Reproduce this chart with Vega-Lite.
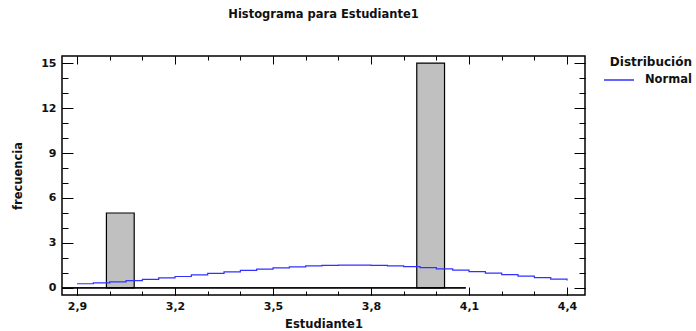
{
  "$schema": "https://vega.github.io/schema/vega-lite/v6.json",
  "autosize": "none",
  "width": 523,
  "height": 239,
  "padding": {"left": 62, "top": 56, "right": 111, "bottom": 36},
  "background": "white",
  "config": {
    "font": "DejaVu Sans",
    "view": {"stroke": "#000", "strokeWidth": 1.5},
    "axis": {"domain": false, "grid": false, "tickColor": "#000", "tickWidth": 1, "labelFont": "DejaVu Sans", "labelFontWeight": "bold", "labelFontSize": 11, "labelColor": "#111", "titleFont": "DejaVu Sans", "titleFontWeight": "bold", "titleFontSize": 11.5, "titleColor": "#111"},
    "legend": {"labelFont": "DejaVu Sans", "titleFont": "DejaVu Sans"}
  },
  "title": {"text": "Histograma para Estudiante1", "fontSize": 11.5, "fontWeight": "bold", "font": "DejaVu Sans", "color": "#111", "anchor": "middle", "offset": 35},
  "datasets": {
    "bins": [
      {"desde": 2.99, "hasta": 3.075, "frecuencia": 5},
      {"desde": 3.94, "hasta": 4.025, "frecuencia": 15}
    ],
    "normal": [
      {"x": 2.90, "y": 0.280, "serie": "Normal"},
      {"x": 2.95, "y": 0.341, "serie": "Normal"},
      {"x": 3.00, "y": 0.410, "serie": "Normal"},
      {"x": 3.05, "y": 0.488, "serie": "Normal"},
      {"x": 3.10, "y": 0.574, "serie": "Normal"},
      {"x": 3.15, "y": 0.667, "serie": "Normal"},
      {"x": 3.20, "y": 0.764, "serie": "Normal"},
      {"x": 3.25, "y": 0.866, "serie": "Normal"},
      {"x": 3.30, "y": 0.969, "serie": "Normal"},
      {"x": 3.35, "y": 1.072, "serie": "Normal"},
      {"x": 3.40, "y": 1.169, "serie": "Normal"},
      {"x": 3.45, "y": 1.261, "serie": "Normal"},
      {"x": 3.50, "y": 1.343, "serie": "Normal"},
      {"x": 3.55, "y": 1.412, "serie": "Normal"},
      {"x": 3.60, "y": 1.468, "serie": "Normal"},
      {"x": 3.65, "y": 1.506, "serie": "Normal"},
      {"x": 3.70, "y": 1.527, "serie": "Normal"},
      {"x": 3.75, "y": 1.528, "serie": "Normal"},
      {"x": 3.80, "y": 1.512, "serie": "Normal"},
      {"x": 3.85, "y": 1.477, "serie": "Normal"},
      {"x": 3.90, "y": 1.425, "serie": "Normal"},
      {"x": 3.95, "y": 1.358, "serie": "Normal"},
      {"x": 4.00, "y": 1.278, "serie": "Normal"},
      {"x": 4.05, "y": 1.188, "serie": "Normal"},
      {"x": 4.10, "y": 1.091, "serie": "Normal"},
      {"x": 4.15, "y": 0.990, "serie": "Normal"},
      {"x": 4.20, "y": 0.887, "serie": "Normal"},
      {"x": 4.25, "y": 0.785, "serie": "Normal"},
      {"x": 4.30, "y": 0.686, "serie": "Normal"},
      {"x": 4.35, "y": 0.592, "serie": "Normal"},
      {"x": 4.40, "y": 0.505, "serie": "Normal"}
    ]
  },
  "layer": [
    {
      "data": {"name": "bins"},
      "mark": {"type": "rect", "fill": "#c0c0c0", "stroke": "#000", "strokeWidth": 1.2},
      "encoding": {
        "x": {"field": "desde", "type": "quantitative", "scale": {"domain": [2.854, 4.455], "nice": false, "zero": false},
          "axis": {"orient": "bottom", "values": [2.9, 3.2, 3.5, 3.8, 4.1, 4.4], "tickSize": -8, "labelPadding": 13, "labelExpr": "replace(format(datum.value, '.1f'), '.', ',')", "title": "Estudiante1", "titlePadding": 7}},
        "x2": {"field": "hasta"},
        "y": {"field": "frecuencia", "type": "quantitative", "scale": {"domain": [-0.47, 15.47], "nice": false, "zero": false},
          "axis": {"orient": "left", "values": [0, 3, 6, 9, 12, 15], "tickSize": -11, "labelPadding": 17, "title": "frecuencia", "titlePadding": 17}},
        "y2": {"datum": 0}
      }
    },
    {
      "data": {"name": "normal"},
      "mark": {"type": "line", "strokeWidth": 1.2, "interpolate": "step-after"},
      "encoding": {
        "x": {"field": "x", "type": "quantitative", "axis": {"orient": "top", "values": [2.9, 3.2, 3.5, 3.8, 4.1, 4.4], "tickSize": -8, "labels": false, "title": null}},
        "y": {"field": "y", "type": "quantitative", "axis": {"orient": "right", "values": [0, 3, 6, 9, 12, 15], "tickSize": -11, "labels": false, "title": null}},
        "color": {"field": "serie", "type": "nominal", "scale": {"domain": ["Normal"], "range": ["#3030ff"]},
          "legend": {"title": "Distribución", "orient": "none", "legendX": 541, "legendY": 1, "padding": 0, "symbolType": "stroke", "symbolSize": 900, "symbolStrokeWidth": 1.5, "labelFontSize": 11.5, "labelFontWeight": "bold", "labelColor": "#111", "labelOffset": 10, "titleFontSize": 12, "titleFontWeight": "bold", "titleColor": "#111", "titleAnchor": "end", "titlePadding": -5, "titleLimit": 200}}
      }
    },
    {
      "data": {"name": "bins"},
      "mark": {"type": "rule", "color": "#000", "strokeWidth": 1.2},
      "encoding": {
        "x": {"datum": 2.854, "type": "quantitative", "axis": {"orient": "bottom", "values": [2.9, 3.0, 3.1, 3.2, 3.3, 3.4, 3.5, 3.6, 3.7, 3.8, 3.9, 4.0, 4.1, 4.2, 4.3, 4.4], "tickSize": -4, "labels": false, "title": null}},
        "x2": {"datum": 4.09},
        "y": {"datum": 0, "type": "quantitative", "axis": {"orient": "left", "values": [0, 1, 2, 3, 4, 5, 6, 7, 8, 9, 10, 11, 12, 13, 14, 15], "tickSize": -6, "labels": false, "title": null}}
      }
    },
    {
      "data": {"name": "normal"},
      "mark": {"type": "point", "opacity": 0},
      "encoding": {
        "x": {"field": "x", "type": "quantitative", "axis": {"orient": "top", "values": [2.9, 3.0, 3.1, 3.2, 3.3, 3.4, 3.5, 3.6, 3.7, 3.8, 3.9, 4.0, 4.1, 4.2, 4.3, 4.4], "tickSize": -4, "labels": false, "title": null}},
        "y": {"field": "y", "type": "quantitative", "axis": {"orient": "right", "values": [0, 1, 2, 3, 4, 5, 6, 7, 8, 9, 10, 11, 12, 13, 14, 15], "tickSize": -6, "labels": false, "title": null}}
      }
    }
  ],
  "resolve": {"axis": {"x": "independent", "y": "independent"}}
}
